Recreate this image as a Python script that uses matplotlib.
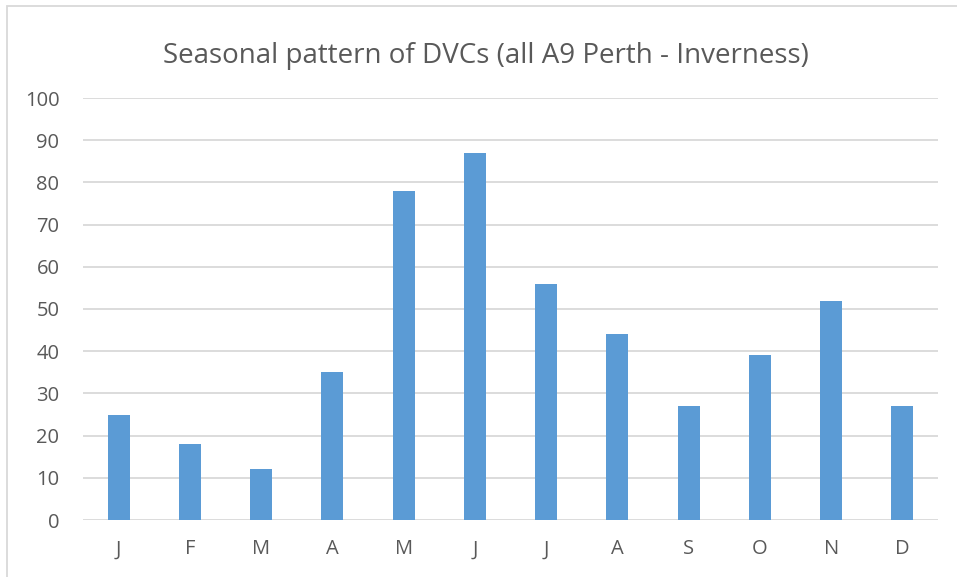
import matplotlib
matplotlib.use('Agg')
import matplotlib.pyplot as plt
from matplotlib.patches import Rectangle

# monthly deer-vehicle collisions
months = ['J', 'F', 'M', 'A', 'M', 'J', 'J', 'A', 'S', 'O', 'N', 'D']
dvcs = [25, 18, 12, 35, 78, 87, 56, 44, 27, 39, 52, 27]
yticks = [0, 10, 20, 30, 40, 50, 60, 70, 80, 90, 100]

plt.rcParams['font.family'] = ['Open Sans', 'DejaVu Sans']
txt = '#595959'

fig = plt.figure(figsize=(9.57, 5.77), dpi=100)
ax = fig.add_axes([83/957, 1-520/577, (938-83)/957, (520-98)/577])

x = range(len(months))
ax.bar(x, dvcs, width=0.31, color='#5B9BD5', zorder=3)

ax.set_xlim(-0.5, len(months)-0.5)
ax.set_ylim(0, 100)
ax.set_yticks(yticks)
ax.set_xticks(list(x))
ax.set_xticklabels(months)
ax.grid(axis='y', color='#D9D9D9', linewidth=1.3, zorder=0)
for s in ax.spines.values():
    s.set_visible(False)
ax.tick_params(length=0, labelsize=14.5, colors=txt)
ax.tick_params(axis='y', pad=17)
ax.tick_params(axis='x', pad=14)

fig.text(486/957, 1-56/577, 'Seasonal pattern of DVCs (all A9 Perth - Inverness)',
         ha='center', va='center', fontsize=20, color=txt)

# chart border (partly cut off on right/bottom)
fig.patches.append(Rectangle((7/957, -0.1), 1.2, 1-6/577+0.1, transform=fig.transFigure,
                             fill=False, edgecolor='#D9D9D9', linewidth=1.3))

fig.savefig('out.png', dpi=100)
